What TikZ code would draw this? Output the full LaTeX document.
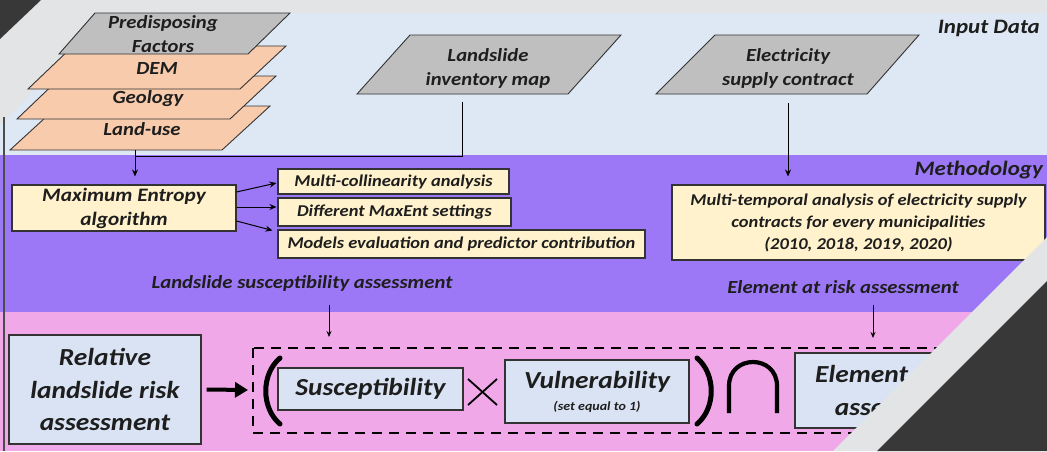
\documentclass[tikz,border=0pt]{standalone}
\usepackage{fontspec}
\setmainfont{Carlito}[FakeStretch=1.12]
\usetikzlibrary{arrows.meta}
\definecolor{bggrey}{HTML}{E3E4E6}
\definecolor{darkc}{HTML}{383838}
\definecolor{inblue}{HTML}{DDE8F4}
\definecolor{meth}{HTML}{9D78F6}
\definecolor{rpink}{HTML}{F0A8E8}
\definecolor{yel}{HTML}{FFF2CC}
\definecolor{pgrey}{HTML}{BFBFBF}
\definecolor{peach}{HTML}{F8CBAD}
\definecolor{lblue}{HTML}{DAE3F3}
\definecolor{bord}{HTML}{333333}
\definecolor{txt}{HTML}{1E1E1E}
\tikzset{
  lbl/.style={font=\bfseries\itshape\fontsize{18.5}{24}\selectfont, text=txt, align=center, inner sep=0pt},
  layer/.style={draw=bord, line width=0.9pt},
  ybox/.style={draw=bord, fill=yel, line width=1.1pt, inner sep=0pt, text=txt, align=center},
  bbox/.style={draw=bord, fill=lblue, line width=1.1pt, inner sep=0pt, text=txt, align=center},
  conn/.style={draw=black, line width=1pt},
  arr/.style={conn, -{Stealth[length=7pt,width=6pt]}},
}
\begin{document}
\begin{tikzpicture}[x=1pt,y=-1pt]
\useasboundingbox (0,0) rectangle (1047,451);
% backgrounds
\fill[bggrey] (0,0) rectangle (1047,451);
\fill[inblue] (112,13) -- (1047,13) -- (1047,155) -- (0,155) -- (0,125) -- cycle;
\fill[meth] (0,155) rectangle (1047,312);
\fill[rpink] (0,312) rectangle (1047,451);
\draw[gray!60!black, line width=1.5pt] (4,117) -- (4,451);
\fill[darkc] (0,0) -- (41,0) -- (0,39) -- cycle;

% stacked layers
\draw[layer, fill=peach] (10,150) -- (222,150) -- (270,106) -- (58,106) -- cycle;
\draw[layer, fill=peach] (17,119) -- (230,119) -- (276,76) -- (62,76) -- cycle;
\draw[layer, fill=peach] (28,89) -- (240,89) -- (286,46) -- (73,46) -- cycle;
\draw[layer, fill=pgrey] (59,54) -- (248,54) -- (290,13) -- (95,13) -- cycle;
\node[lbl] (pf) at (163,34) {Predisposing\\Factors};
\node[lbl] (dem) at (157,68) {DEM};
\node[lbl] (geo) at (148,99) {Geology};
\node[lbl] (lu) at (142,129) {Land-use};
\coordinate (luout) at (135,150);

% input parallelograms
\draw[layer, fill=pgrey] (357,94) -- (568,94) -- (621,35) -- (410,35) -- cycle;
\node[lbl] (lim) at (488,68) {Landslide\\inventory map};
\coordinate (limout) at (462,102);
\draw[layer, fill=pgrey] (656,94) -- (867,94) -- (919,35) -- (715,35) -- cycle;
\node[lbl] (esc) at (788,68) {Electricity\\supply contract};
\coordinate (escout) at (788,103);

\node[lbl, anchor=east, font=\bfseries\itshape\fontsize{20.5}{24}\selectfont] (input) at (1040,28) {Input Data};
\node[lbl, anchor=east, font=\bfseries\itshape\fontsize{20.5}{24}\selectfont] (methl) at (1043,170) {Methodology};

% methodology boxes
\node[ybox, minimum width=224pt, minimum height=46pt, font=\bfseries\itshape\fontsize{19}{24}\selectfont] (me) at (124,208) {Maximum Entropy\\algorithm};
\node[ybox, minimum width=231pt, minimum height=25pt, font=\bfseries\itshape\fontsize{16.5}{20}\selectfont] (b1) at (393.5,181.5) {Multi-collinearity analysis};
\node[ybox, minimum width=233pt, minimum height=28pt, font=\bfseries\itshape\fontsize{16.5}{20}\selectfont] (b2) at (394.5,212) {Different MaxEnt settings};
\node[ybox, minimum width=367pt, minimum height=28pt, font=\bfseries\itshape\fontsize{16.5}{20}\selectfont] (b3) at (461.5,244) {Models evaluation and predictor contribution};
\node[ybox, minimum width=373pt, minimum height=75pt, font=\bfseries\itshape\fontsize{16.5}{22}\selectfont] (mt) at (858.5,222.5) {Multi-temporal analysis of electricity supply\\contracts for every municipalities\\(2010, 2018, 2019, 2020)};

\node[lbl] (lsa) at (302,283) {Landslide susceptibility assessment};
\node[lbl] (era) at (843,287) {Element at risk assessment};

% connectors in input/methodology
\draw[arr, shorten >=8pt] (luout) -- (me.north -| luout);
\draw[conn] (limout) |- (135,156);
\draw[arr, shorten >=8pt] (escout) -- (mt.north -| escout);
\draw[arr] ([yshift=16pt]me.east) -- ([xshift=-1pt]b1.west |- 0,183);
\draw[arr] ([yshift=1pt]me.east) -- ([xshift=-1pt]b2.west |- 0,207);
\draw[arr] ([yshift=-13pt]me.east) -- ([xshift=-5pt,yshift=-1pt]b3.north west);

% risk row
\node[bbox, minimum width=192pt, minimum height=109pt, font=\bfseries\itshape\fontsize{24.5}{32.5}\selectfont] (rr) at (105,389.5) {Relative\\landslide risk\\assessment};
\draw[black, dashed, dash pattern=on 10pt off 7pt, line width=1.1pt] (253,348) rectangle (1015,433);
\coordinate (dbl) at (253,390);
\coordinate (dbt1) at (329,348);
\coordinate (dbt2) at (873,348);
\draw[black, line width=4pt, -{Triangle[length=13pt,width=15pt]}] (rr.east) ++(5pt,0) -- ([xshift=-5pt]dbl);
\draw[arr, -{Stealth[length=6pt,width=5pt]}, shorten >=11pt] (329,305) -- (dbt1);
\draw[arr, -{Stealth[length=6pt,width=5pt]}, shorten >=10pt] (873,305) -- (dbt2);

\draw[black, line width=5pt, line cap=round] (280,358) .. controls (261,374) and (261,408) .. (280,424);
\node[bbox, minimum width=185pt, minimum height=42pt, font=\bfseries\itshape\fontsize{24.5}{28}\selectfont] (su) at (370.5,389) {Susceptibility};
\draw[black, line width=1.8pt] (468,379) -- (497,405);
\draw[black, line width=1.8pt] (468,405) -- (497,379);
\node[bbox, minimum width=184pt, minimum height=63pt] (vu) at (597,391.5) {{\bfseries\itshape\fontsize{24.5}{26}\selectfont Vulnerability}\\[8pt]{\bfseries\itshape\fontsize{12.5}{13}\selectfont (set equal to 1)}};
\draw[black, line width=5pt, line cap=round] (697,358) .. controls (716,374) and (716,408) .. (697,424);
\draw[black, line width=4.2pt] (729,413) -- (729,386) .. controls (729,354) and (777,354) .. (777,386) -- (777,413);
\node[bbox, minimum width=210pt, minimum height=75pt, font=\bfseries\itshape\fontsize{24.5}{33}\selectfont] (el) at (900,390.5) {Element at risk\\assessment};

% overlay band bottom-right
\fill[bggrey] (1047,237) -- (1047,451) -- (833,451) -- cycle;
\fill[darkc] (1047,281) -- (1047,451) -- (877,451) -- cycle;
\end{tikzpicture}
\end{document}
